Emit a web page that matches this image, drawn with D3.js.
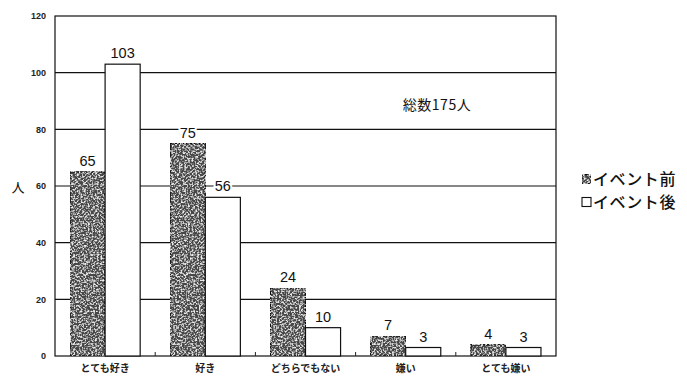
<!DOCTYPE html>
<html>
<head>
<meta charset="utf-8">
<script src="https://cdn.jsdelivr.net/npm/d3@7"></script>
<style>
  html, body { margin: 0; padding: 0; background: #fff; }
  svg { display: block; }
</style>
</head>
<body>
<svg id="chart" width="687" height="381"></svg>
<script>
// Survey answers before and after the event (total respondents: 175)
const categories = ["とても好き", "好き", "どちらでもない", "嫌い", "とても嫌い"];
const seriesNames = ["イベント前", "イベント後"];
const before = [65, 75, 24, 7, 4];
const after = [103, 56, 10, 3, 3];
const yTicks = [0, 20, 40, 60, 80, 100, 120];
const yLabel = "人";
const totalNote = "総数175人";

const svg = d3.select("#chart");
const m = { left: 55, right: 556, top: 16, bottom: 356 };
const jpFont = "'Noto Sans CJK JP', 'Noto Sans', sans-serif";

// Grainy fill for the "before" bars
const defs = svg.append("defs");
const f = defs.append("filter").attr("id", "grain")
  .attr("x", 0).attr("y", 0).attr("width", 1).attr("height", 1);
f.append("feTurbulence").attr("type", "fractalNoise")
  .attr("baseFrequency", 0.55).attr("numOctaves", 2).attr("seed", 11).attr("result", "noise");
f.append("feColorMatrix").attr("in", "noise").attr("type", "matrix")
  .attr("values", "0 0 0 0 0.85  0 0 0 0 0.85  0 0 0 0 0.85  3.6 0 0 0 -1.65").attr("result", "speck");
f.append("feComposite").attr("in", "speck").attr("in2", "SourceGraphic")
  .attr("operator", "in").attr("result", "spk");
f.append("feMerge").call(g => {
  g.append("feMergeNode").attr("in", "SourceGraphic");
  g.append("feMergeNode").attr("in", "spk");
});

const x0 = d3.scaleBand().domain(categories).range([m.left, m.right])
  .paddingInner(0.3).paddingOuter(0.15);
const x1 = d3.scaleBand().domain(seriesNames).range([0, x0.bandwidth()]);
const y = d3.scaleLinear().domain([0, 120]).range([m.bottom, m.top]);

// Gridlines
svg.append("g").selectAll("line").data(yTicks.filter(v => v > 0 && v < 120)).join("line")
  .attr("x1", m.left).attr("x2", m.right)
  .attr("y1", d => y(d)).attr("y2", d => y(d))
  .attr("stroke", "#111").attr("stroke-width", 1.1);

// Frame
svg.append("rect").attr("x", m.left).attr("y", m.top)
  .attr("width", m.right - m.left).attr("height", m.bottom - m.top)
  .attr("fill", "none").attr("stroke", "#111").attr("stroke-width", 1.2);

// Y axis labels
const yAxis = d3.axisLeft(y).tickValues(yTicks).tickSize(0).tickPadding(9);
svg.append("g").attr("transform", `translate(${m.left},0)`).call(yAxis)
  .call(g => g.select(".domain").remove())
  .call(g => g.selectAll("text").attr("font-family", "Arial, 'Liberation Sans', sans-serif")
    .attr("font-size", 9).attr("font-weight", "bold").attr("fill", "#222"));

// X axis: category labels and inward ticks at group boundaries
const bounds = categories.slice(1).map(c => x0(c) - x0.step() * x0.paddingInner() / 2);
svg.append("g").selectAll("line").data(bounds).join("line")
  .attr("x1", d => d).attr("x2", d => d)
  .attr("y1", m.bottom).attr("y2", m.bottom - 4)
  .attr("stroke", "#222").attr("stroke-width", 1);
svg.append("g").attr("transform", `translate(0,${m.bottom})`)
  .call(d3.axisBottom(x0).tickSize(0).tickPadding(9))
  .call(g => g.select(".domain").remove())
  .call(g => g.selectAll("text").attr("font-family", jpFont)
    .attr("font-size", 10).attr("font-weight", "bold").attr("fill", "#222"));

// Bars
const rows = categories.map((c, i) => ({ c, vals: [before[i], after[i]] }));
const groups = svg.append("g").selectAll("g").data(rows).join("g")
  .attr("transform", d => `translate(${x0(d.c)},0)`);
groups.selectAll("rect").data(d => d.vals.map((v, k) => ({ s: seriesNames[k], v, k }))).join("rect")
  .attr("x", d => x1(d.s)).attr("width", x1.bandwidth())
  .attr("y", d => y(d.v)).attr("height", d => y(0) - y(d.v))
  .attr("fill", d => d.k === 0 ? "#464646" : "#fff")
  .attr("filter", d => d.k === 0 ? "url(#grain)" : null)
  .attr("stroke", "#111").attr("stroke-width", 1.2);

// Value labels
groups.selectAll("text").data(d => d.vals.map((v, k) => ({ s: seriesNames[k], v, k }))).join("text")
  .attr("x", d => x1(d.s) + x1.bandwidth() / 2)
  .attr("y", d => y(d.v) - 6)
  .attr("text-anchor", "middle")
  .attr("font-family", "Arial, 'Liberation Sans', sans-serif").attr("font-size", 14.5)
  .attr("fill", "#111")
  .attr("stroke", "#fff").attr("stroke-width", 4).attr("paint-order", "stroke")
  .text(d => d.v);

// Axis title
svg.append("text").attr("x", 18).attr("y", 192).attr("text-anchor", "middle")
  .attr("font-family", jpFont).attr("font-size", 13).attr("fill", "#111").text(yLabel);

// Total note
svg.append("text").attr("x", 437).attr("y", 110).attr("text-anchor", "middle")
  .attr("font-family", jpFont).attr("font-size", 14).attr("letter-spacing", 0.5)
  .attr("fill", "#111").text(totalNote);

// Legend
const leg = svg.append("g").attr("transform", "translate(582,0)");
seriesNames.forEach((s, k) => {
  const cy = 179 + k * 23;
  leg.append("rect").attr("x", 0).attr("y", cy - 4.5).attr("width", 9).attr("height", 9)
    .attr("fill", k === 0 ? "#464646" : "#fff")
    .attr("filter", k === 0 ? "url(#grain)" : null)
    .attr("stroke", "#111").attr("stroke-width", 1.1);
  leg.append("text").attr("x", 11).attr("y", cy).attr("dy", "0.36em")
    .attr("font-family", jpFont).attr("font-size", 16).attr("font-weight", 500)
    .attr("letter-spacing", 0.6)
    .attr("fill", "#111").text(s);
});
</script>
</body>
</html>
